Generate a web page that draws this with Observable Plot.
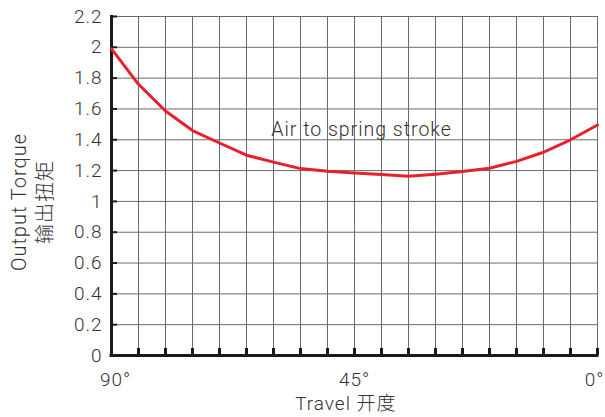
<!DOCTYPE html>
<html>
<head>
<meta charset="utf-8">
<script src="https://cdn.jsdelivr.net/npm/d3@7"></script>
<script src="https://cdn.jsdelivr.net/npm/@observablehq/plot@0.6"></script>
<style>
  html, body { margin: 0; padding: 0; background: #fff; }
  #chart svg { display: block; }
  #chart svg text { letter-spacing: 1px; }
</style>
</head>
<body>
<div id="chart"></div>
<script>
// Travel angle (degrees), read at every 5° gridline
const travel = [90, 85, 80, 75, 70, 65, 60, 55, 50, 45, 40, 35, 30, 25, 20, 15, 10, 5, 0];
// Output torque, air to spring stroke
const torque = [1.99, 1.76, 1.587, 1.46, 1.379, 1.30, 1.255, 1.213, 1.196, 1.185, 1.174, 1.163, 1.177, 1.194, 1.215, 1.26, 1.319, 1.40, 1.496];

const xGridTicks = [90, 85, 80, 75, 70, 65, 60, 55, 50, 45, 40, 35, 30, 25, 20, 15, 10, 5, 0];
const xLabelTicks = [90, 45, 0];
const xLabelText = ["90°", "45°", "0°"];
const yTicks = [0, 0.2, 0.4, 0.6, 0.8, 1, 1.2, 1.4, 1.6, 1.8, 2, 2.2];
const yTickText = ["0", "0.2", "0.4", "0.6", "0.8", "1", "1.2", "1.4", "1.6", "1.8", "2", "2.2"];
const yTitle = ["Output Torque", "输出扭矩"];
const xTitle = "Travel 开度";
const seriesLabel = "Air to spring stroke";

const data = travel.map((t, i) => ({travel: t, torque: torque[i]}));
const fmtX = (d) => xLabelText[xLabelTicks.indexOf(d)];

const FONT = "Roboto, 'Noto Sans CJK SC', 'Liberation Sans', sans-serif";
const TEXT = "#333333";
const GRID = "#6b6b6b";
const AXIS = "#1a1a1a";
const RED = "#e8202a";

const chart = Plot.plot({
  width: 605,
  height: 417,
  marginLeft: 111,
  marginRight: 8,
  marginTop: 16,
  marginBottom: 62,
  x: {domain: [90, 0], label: null, axis: null},
  y: {domain: [0, 2.2], label: null, axis: null},
  style: {fontFamily: FONT, background: "#fff", color: TEXT, overflow: "visible", fontWeight: 300},
  marks: [
    Plot.gridX(xGridTicks, {stroke: GRID, strokeOpacity: 1, strokeWidth: 1}),
    Plot.gridY(yTicks, {stroke: GRID, strokeOpacity: 1, strokeWidth: 1}),
    // inward tick marks
    Plot.axisX(xGridTicks, {anchor: "bottom", tickSize: -7, tickFormat: () => "", stroke: AXIS, strokeWidth: 3, label: null}),
    Plot.axisY(yTicks, {anchor: "left", tickSize: -6, tickFormat: () => "", stroke: AXIS, strokeWidth: 2, label: null}),
    // tick labels
    Plot.axisX([xLabelTicks[0]], {anchor: "bottom", tickSize: 0, tickPadding: 17, dx: 4, tickFormat: fmtX, fontSize: 19, fill: TEXT, label: null}),
    Plot.axisX([xLabelTicks[1]], {anchor: "bottom", tickSize: 0, tickPadding: 17, tickFormat: fmtX, fontSize: 19, fill: TEXT, label: null}),
    Plot.axisX([xLabelTicks[2]], {anchor: "bottom", tickSize: 0, tickPadding: 17, dx: -3, tickFormat: fmtX, fontSize: 19, fill: TEXT, label: null}),
    Plot.axisY(yTicks, {anchor: "left", tickSize: 0, tickPadding: 9, tickFormat: (d) => yTickText[yTicks.indexOf(d)], fontSize: 19, fill: TEXT, label: null}),
    // axis lines
    Plot.ruleX([90], {stroke: AXIS, strokeWidth: 3, insetBottom: -1.5, insetTop: -1}),
    Plot.ruleY([0], {stroke: AXIS, strokeWidth: 3, insetLeft: -1.5, insetRight: -1.5}),
    // curve
    Plot.line(data, {x: "travel", y: "torque", stroke: RED, strokeWidth: 3, strokeLinejoin: "round"}),
    // annotation
    Plot.text([seriesLabel], {x: 43.7, y: 1.465, text: (d) => d, fontSize: 19.5, fill: TEXT, textAnchor: "middle", lineAnchor: "middle"}),
    // axis titles
    Plot.text([xTitle], {x: 46.6, frameAnchor: "bottom", text: (d) => d, fontSize: 19, fill: TEXT, dy: 48, lineAnchor: "middle"}),
    Plot.text([yTitle[0]], {frameAnchor: "left", text: (d) => d, rotate: -90, fontSize: 20, fill: TEXT, textAnchor: "middle", dx: -92, dy: 16}),
    Plot.text([yTitle[1]], {frameAnchor: "left", text: (d) => d, rotate: -90, fontSize: 20, fill: TEXT, textAnchor: "middle", dx: -66, dy: 16})
  ]
});

document.getElementById("chart").appendChild(chart);
</script>
</body>
</html>
